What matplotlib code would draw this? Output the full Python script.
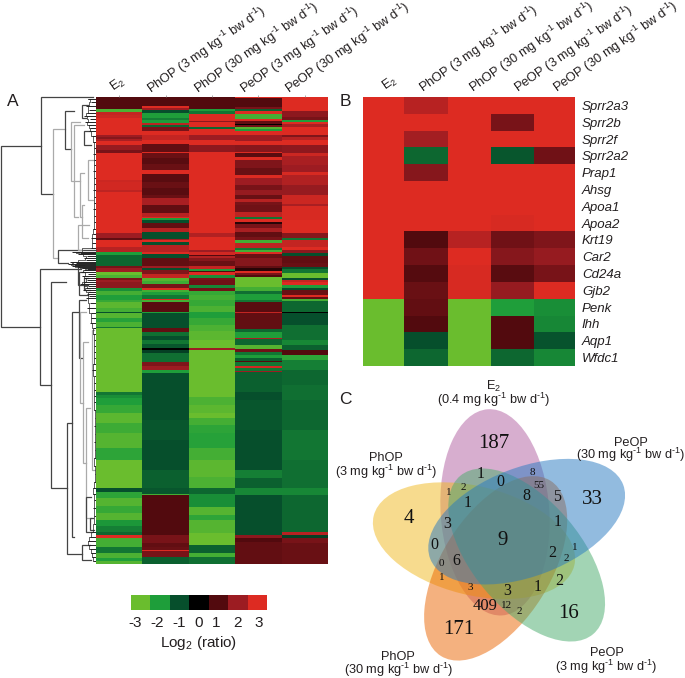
import numpy as np
import matplotlib
matplotlib.use('Agg')
import matplotlib.pyplot as plt
from matplotlib.colors import LinearSegmentedColormap, ListedColormap
from matplotlib.patches import Ellipse

plt.rcParams['font.family'] = ['Liberation Sans', 'DejaVu Sans']
plt.rcParams['mathtext.fontset'] = 'custom'
plt.rcParams['mathtext.rm'] = 'Liberation Sans'
plt.rcParams['mathtext.default'] = 'regular'

W, H = 685, 678
INK = '#231f20'

DOSE_UNIT = r' mg kg$^{\text{-}1}$ bw d$^{\text{-}1}$)'
treat_labels = ['E$_2$', 'PhOP (3' + DOSE_UNIT, 'PhOP (30' + DOSE_UNIT, 'PeOP (3' + DOSE_UNIT, 'PeOP (30' + DOSE_UNIT]
legend_levels = [-3, -2, -1, 0, 1, 2, 3]
legend_colors = ['#6abd2e', '#1e9e3a', '#064f2c', '#000000', '#520a0e', '#9c1c22', '#dd2b22']
legend_label_pos = [-3.29, -2.16, -1.03, 0, 0.87, 1.96, 3.05]

# panel A, blocks of genes as (last row, log2 ratio), rows run 97..564
e2_runs = [(109, 1), (112, -2.6), (115, 2.6), (118, 2.7), (135, 3), (137, 2), (139, 1.7), (141, 2.2), (145, 3),
           (150, 1.9), (153, 1.5), (180, 3), (182, 2.7), (190, 2.8), (192, 2.5), (197, 3), (233, 3), (238, 2),
           (240, 1.2), (247, 3), (252, 2.4), (255, -2), (266, -1.3), (268, 1.5), (272, 2), (275, -3), (278, -2.6),
           (280, 1.5), (282, 2), (288, 1.8), (291, -1.8), (295, -2.5), (300, -2), (302, -2.3), (308, -2.8),
           (312, -2.5), (313, -1), (318, -2.7), (322, -2.1), (327, -2.6), (328, -1.5), (392, -3), (395, -1.5),
           (398, -1.8), (405, -2), (413, -2.3), (423, -2.8), (433, -2.4), (448, -2.7), (460, -2.2), (488, -3),
           (492, -1), (498, -2.2), (506, -2.7), (513, -2.3), (520, -2.7), (526, -1.9), (532, -1.6), (535, -1.3),
           (538, 3), (547, -2.5), (553, -1.5), (558, -2.6), (561, -2), (564, -2.7)]
phop3_runs = [(106, 1), (108, 3), (110, 2), (113, -1), (118, -2), (120, -1.6), (123, -2), (125, 2.5), (127, -1.3),
              (131, 1.5), (135, 3), (140, 2.6), (144, 3), (152, 1.2), (153, 3), (158, 1.3), (164, 1.1), (170, 1.3),
              (174, 3), (182, 1.1), (188, 1.3), (195, 1.1), (198, 1.3), (205, 2.2), (213, 1.2), (217, 2.4), (218, 3),
              (220, -2), (223, -1), (228, 1.2), (232, 2.4), (239, -1), (240, 2), (242, 3), (245, -1), (252, 2.4),
              (254, 3), (258, -1), (266, 1.2), (268, 2), (270, -1), (274, 1.6), (278, 2.6), (281, -2.7), (284, -2.4),
              (288, 1.5), (290, 3), (292, -2.5), (295, -2), (299, -1.5), (300, 3), (302, -2.5), (312, 1.1), (313, -2),
              (328, -1), (332, 1.2), (336, -1.4), (340, -1), (344, -1.5), (348, -1.1), (350, 0), (353, -0.8),
              (362, -1.4), (366, 1.6), (370, 2), (373, -2), (392, -1), (420, -1), (440, -1.1), (470, -1), (488, -1.2),
              (494, -1.1), (495, -2.5), (535, 1), (543, 1.5), (547, 1.2), (550, 1.3), (551, 3), (557, 1.5), (564, -1.2)]
phop30_runs = [(109, 1), (111, -2), (114, -1.5), (121, 3), (122, 1.8), (127, 3), (129, -1.3), (135, 3), (140, 2),
               (145, 3), (152, 1.8), (233, 3), (237, 2.3), (250, 3), (252, 2), (255, 2.8), (256, 1), (258, 2.3),
               (261, 1.7), (266, 1.3), (269, 2.6), (271, -2), (272, 1), (275, 3), (278, -1.8), (280, 1.5), (285, 1.4),
               (288, -1.7), (291, 1.4), (295, -2.3), (300, -2.5), (306, -2.3), (312, -2.6), (318, -2), (325, -2.3),
               (331, -2.6), (340, -2.8), (348, -3), (350, 2), (397, -3), (405, -2.6), (413, -2.8), (418, -3),
               (425, -2.5), (433, -2.2), (448, -2.1), (460, -2.5), (477, -2.8), (488, -2.6), (494, -1.3), (507, -1.8),
               (515, -2.7), (520, -2.2), (533, -2.7), (545, -3), (553, -1.2), (557, -2.5), (564, -1.4)]
peop3_runs = [(98, 3), (107, 1), (109, 1.5), (111, -1.2), (114, 3), (119, -2.5), (121, 3), (124, 1.2), (125, 0),
              (127, 1.4), (129, -2.7), (131, -2), (135, 3), (141, 2), (145, 3), (152, 1.7), (153, 3), (157, 1.1),
              (160, 3), (168, 1.6), (175, 1.3), (178, 3), (185, 2), (190, 1.5), (195, 1.9), (199, 1.3), (202, 2.4),
              (205, 1.5), (212, 1.4), (217, 2.5), (219, -1.5), (222, 3), (224, 0.5), (228, 1.5), (232, 2.2), (237, 1.2),
              (240, 1.5), (243, -2.5), (248, 2.5), (250, -1.5), (252, -2.5), (254, 3), (258, 1.3), (266, 1.7), (268, 1.2),
              (271, 0.5), (273, 3), (275, 1.5), (277, 1), (287, -3), (291, -2.5), (294, -1.4), (300, -2), (302, -1.5),
              (312, 1.1), (313, 2.6), (329, 1.2), (332, -1.3), (338, -2), (339, 2.2), (345, -1.3), (349, -2.7), (352, 1.4),
              (355, -1.5), (358, -2), (361, -1.2), (362, 1), (366, -1.5), (368, 2.8), (371, -1.5), (372, 2),
              (392, -1.2), (400, -1), (430, -1.1), (470, -1), (478, -1.6), (488, -1.2), (495, -1.7), (535, -1), (538, 1.8),
              (542, 1), (564, 1.2)]
peop30_runs = [(111, 3), (117, 1.8), (120, 1.5), (122, -2), (124, 3), (127, 2.2), (135, 3), (137, 1.6), (140, 2.4),
               (145, 3), (153, 1.8), (156, 2.7), (165, 2.2), (172, 2), (175, 2.9), (185, 2.3), (195, 1.9), (204, 2.7),
               (206, 2.2), (220, 2.9), (233, 3), (238, 1.7), (240, -1.5), (247, 2.6), (250, 3), (253, 1.8), (256, -1),
               (263, 1.2), (267, 1.3), (269, -1), (273, -1.5), (278, -3), (280, -1), (282, 2.6), (285, 3), (288, -2),
               (290, -1), (295, 1.3), (297, 3), (299, 1.2), (301, -2.5), (312, -1.3), (313, 0), (325, -1), (340, -1.4),
               (345, -1.7), (350, -1.2), (355, 1), (360, -2.2), (370, -1.6), (385, -1.3), (400, -1.4), (430, -1.3),
               (460, -1.5), (488, -1.4), (495, -1.7), (532, -1.3), (535, 2.4), (538, -0.8), (543, 1.5), (564, 1.3)]

# panel A dendrogram: merge distance, upper and lower branch rows, distance where each branch ends
merge_dist = [95, 55, 43, 31, 25, 38, 14, 22, 16, 14, 18, 12, 56, 45, 29, 24, 17, 16, 13, 10, 10, 6, 14, 17, 12, 18, 4, 8]
merge_upper = [146, 97, 129, 111, 122, 250, 105, 125, 173, 205, 225, 131, 269, 282, 423, 312, 300, 312, 342, 408, 497, 518, 545, 272, 278, 265, 330, 160]
merge_lower = [327, 194, 258, 149, 181, 263, 118, 217, 217, 238, 250, 145, 385, 488, 554, 537, 358, 403, 463, 518, 532, 530, 560, 295, 290, 285, 470, 200]
merge_upper_end = [55, 3, 31, 22, 16, 0, 8, 12, 12, 12, 7, 6, 15, 30, 24, 17, 10, 10, 8, 6, 5, 3, 6, 12, 8, 12, 2, 3]
merge_lower_end = [56, 43, 38, 25, 16, 28, 10, 18, 14, 8, 14, 5, 45, 29, 14, 22, 14, 13, 10, 5, 4, 2, 5, 8, 6, 8, 1, 3]
merge_light = [0, 0, 1, 0, 1, 0, 0, 1, 1, 1, 1, 0, 0, 0, 0, 0, 0, 1, 1, 1, 0, 0, 0, 0, 0, 0, 1, 1]

# tiny clusters hugging the heat map: row and how far out they reach
leaf_rows = [99, 102, 106, 110, 113, 116, 119, 122, 125, 128, 131, 136, 142, 148, 154, 160, 165, 171, 178, 184, 190, 197,
             203, 209, 216, 222, 229, 234, 238, 243, 248, 252, 253, 254, 256, 258, 260, 262, 263, 264, 265, 266, 267, 268,
             269, 270, 272, 274, 276, 278, 280, 282, 284, 286, 288, 290, 292, 294, 296, 298, 303, 308, 313, 318, 323, 328,
             334, 340, 346, 352, 358, 364, 370, 376, 383, 390, 396, 402, 410, 418, 426, 434, 442, 450, 458, 466, 474, 482,
             488, 494, 500, 508, 516, 524, 532, 537, 541, 545, 549, 553, 557, 561]
leaf_reach = [8, 5, 10, 7, 9, 12, 6, 11, 8, 6, 7, 4, 3, 2, 3, 2, 2, 3, 2, 2, 3, 2, 2, 3, 2, 2, 3, 3, 5, 4, 5, 24, 16, 18, 9,
              12, 10, 26, 20, 28, 22, 24, 18, 14, 9, 12, 15, 8, 14, 11, 9, 12, 16, 8, 10, 13, 8, 9, 7, 10, 6, 9, 5, 5, 6,
              3, 3, 2, 2, 2, 2, 3, 4, 2, 2, 2, 2, 2, 2, 1, 2, 1, 2, 1, 2, 2, 1, 2, 3, 3, 2, 3, 2, 2, 4, 6, 8, 8, 6, 5, 4, 3]

# panel B
gene_names = ['Sprr2a3', 'Sprr2b', 'Sprr2f', 'Sprr2a2', 'Prap1', 'Ahsg', 'Apoa1', 'Apoa2',
              'Krt19', 'Car2', 'Cd24a', 'Gjb2', 'Penk', 'Ihh', 'Aqp1', 'Wfdc1']
e2_genes = [3, 3, 3, 3, 3, 3, 3, 3, 3, 3, 3, 3, -3, -3, -3, -3]
phop3_genes = [2.4, 3, 2.1, -1.3, 1.7, 3, 3, 3, 1, 1.4, 1.05, 1.3, 1.2, 1, -1, -1.3]
phop30_genes = [3, 3, 3, 3, 3, 3, 3, 3, 2.4, 3, 2.9, 2.9, -3, -3, -3, -3]
peop3_genes = [3, 1.5, 3, -1.1, 3, 3, 3, 2.9, 1.4, 1.7, 1.1, 1.9, -2, 1, 1, -1.3]
peop30_genes = [3, 3, 3, 1.4, 3, 3, 3, 3, 1.6, 1.9, 1.5, 3, -1.8, -1.7, -1.05, -1.7]
b_col_edges = [0, 124, 254, 383, 513, 636]

# panel C
venn_names = ['E$_2$', 'PeOP', 'PeOP', 'PhOP', 'PhOP']
venn_doses = ['(0.4' + DOSE_UNIT, '(30' + DOSE_UNIT, '(3' + DOSE_UNIT, '(30' + DOSE_UNIT, '(3' + DOSE_UNIT]
venn_counts = [187, 4, 33, 16, 171, 9, 409, 1, 0, 8, 55, 8, 5, 1, 2, 1, 3, 1, 0, 2, 1, 2, 0, 6, 1, 3, 3, 1, 2, 12, 2]
count_x = [460, 207, 757, 687, 355, 488, 434, 422, 482, 577, 597, 560, 650, 325, 370, 383, 322, 654, 284, 636, 705, 679,
           304, 350, 304, 391, 503, 593, 657, 500, 537]
count_y = [207, 430, 375, 717, 765, 497, 693, 298, 322, 292, 330, 362, 367, 352, 338, 385, 447, 440, 510, 533, 516, 550,
           565, 557, 607, 637, 648, 635, 617, 693, 710]
count_size = [15, 15, 15, 15, 15, 15, 12, 11.5, 11.5, 8, 8, 11.5, 11.5, 8, 8, 11.5, 11.5, 11.5, 11.5, 11.5, 8, 8, 8, 11.5,
              8, 8, 11.5, 11.5, 11.5, 8, 8]
# painted bottom to top, blue lies over the rest
petal_x = [465, 402, 467, 560, 560]
petal_y = [412, 497, 580, 540, 440]
petal_angle = [-94, 14, 122, 50, -21]
petal_color = ['#b15fa1', '#f1b91f', '#eb6500', '#47ab6b', '#2779c1']


def px_axes(x0, y0, x1, y1):
    return fig.add_axes([x0 / W, 1 - y1 / H, (x1 - x0) / W, (y1 - y0) / H])


def expand(runs):
    vals = np.zeros(467)
    start = 97
    for end, v in runs:
        vals[start - 97:end - 97] = v
        start = end
    return vals


def head_labels(ax, centers, shifts, top):
    ax.set_xticks(centers)
    ax.tick_params(axis='x', top=True, bottom=False, labelbottom=False, length=1.5, width=0.5, color='#888888')
    for c, s, lab in zip(centers, shifts, treat_labels):
        ax.annotate(lab, xy=(c, top), xytext=s, textcoords='offset pixels', rotation=35, rotation_mode='anchor',
                    ha='left', va='bottom', fontsize=9.3, color=INK, annotation_clip=False)


heat_cmap = LinearSegmentedColormap.from_list('heat', list(zip(np.linspace(0, 1, 7), legend_colors)))
fig = plt.figure(figsize=(W / 100, H / 100), dpi=100, facecolor='white')

# A
ax_a = px_axes(96, 97, 328, 564)
mat_a = np.column_stack([expand(r) for r in [e2_runs, phop3_runs, phop30_runs, peop3_runs, peop30_runs]])
ax_a.pcolormesh(np.arange(6), np.arange(97, 565), mat_a, cmap=heat_cmap, vmin=-3, vmax=3, rasterized=True)
ax_a.set_ylim(564, 97)
ax_a.set_yticks([])
for s in ax_a.spines.values():
    s.set_visible(False)
head_labels(ax_a, np.arange(5) + 0.5, [(-3, 2), (-12, -1), (-11, -1), (-11, -1), (-13, -1)], 97)

# dendrogram, same rows as the heat map
ax_d = px_axes(0, 97, 96, 564)
ax_d.set_xlim(96, 0)
ax_d.set_ylim(564, 97)
ax_d.axis('off')
for d, up, lo, ue, le, li in zip(merge_dist, merge_upper, merge_lower, merge_upper_end, merge_lower_end, merge_light):
    col = '#aaaaaa' if li else '#444444'
    ax_d.plot([ue, d, d, le], [up, up, lo, lo], color=col, lw=0.9, solid_joinstyle='miter', clip_on=False)
ax_d.plot(leaf_reach, leaf_rows, color='#222222', lw=0.5, drawstyle='steps-mid')
ax_d.hlines(leaf_rows, 0, leaf_reach, color='#222222', lw=0.7)

# legend strip
ax_l = px_axes(131, 595, 267, 610)
ax_l.pcolormesh(np.arange(8) - 3.5, [0, 1], [legend_levels], cmap=ListedColormap(legend_colors), vmin=-3.5, vmax=3.5)
ax_l.set_yticks([])
ax_l.set_xticks(legend_label_pos)
ax_l.set_xticklabels([str(v) for v in legend_levels], fontsize=11, color=INK)
ax_l.tick_params(axis='x', length=0, pad=4.5)
for s in ax_l.spines.values():
    s.set_visible(False)
ax_l.set_xlabel('Log$_2$ (ratio)', fontsize=11, color=INK, labelpad=2.5)

# B
ax_b = px_axes(363, 97, 575, 366)
mat_b = np.column_stack([e2_genes, phop3_genes, phop30_genes, peop3_genes, peop30_genes])
ax_b.pcolormesh(b_col_edges, np.arange(17), mat_b, cmap=heat_cmap, vmin=-3, vmax=3)
ax_b.set_ylim(16, 0)
ax_b.yaxis.tick_right()
ax_b.set_yticks(np.arange(16) + 0.5)
ax_b.set_yticklabels(gene_names, fontsize=9.5, style='italic', color=INK)
ax_b.tick_params(axis='y', length=0, pad=5)
for s in ax_b.spines.values():
    s.set_visible(False)
centers_b = [(b_col_edges[i] + b_col_edges[i + 1]) / 2 for i in range(5)]
head_labels(ax_b, centers_b, [(4, 3), (0, 0), (7, 0), (9, 0), (5, 0)], 0)
ax_b.tick_params(axis='x', top=False)

# C
ax_c = px_axes(340, 375, 685, 678)
ax_c.set_xlim(0, 1035)
ax_c.set_ylim(909, 0)
ax_c.axis('off')
for px, py, ang, col in zip(petal_x, petal_y, petal_angle, petal_color):
    ax_c.add_patch(Ellipse((px, py), 620, 326, angle=ang, facecolor=col, edgecolor='none', alpha=0.5))
for v, x, y, sz in zip(venn_counts, count_x, count_y, count_size):
    ax_c.text(x, y, str(v), fontsize=sz, family='Liberation Serif', ha='center', va='center', color='#111111')
name_xy = [(460, 35), (872, 203), (800, 833), (175, 845), (138, 250)]
dose_xy = [(460, 75), (872, 240), (800, 875), (175, 885), (138, 290)]
for nm, ds, n_p, d_p in zip(venn_names, venn_doses, name_xy, dose_xy):
    ax_c.text(n_p[0], n_p[1], nm, fontsize=9.2, ha='center', va='center', color=INK, clip_on=False)
    ax_c.text(d_p[0], d_p[1], ds, fontsize=9.2, ha='center', va='center', color=INK, clip_on=False)

for lab, x, y in [('A', 13, 102), ('B', 345, 102), ('C', 345, 400)]:
    fig.text(x / W, 1 - y / H, lab, fontsize=12.5, ha='center', va='center', color=INK)

fig.savefig('out.png', dpi=100)
